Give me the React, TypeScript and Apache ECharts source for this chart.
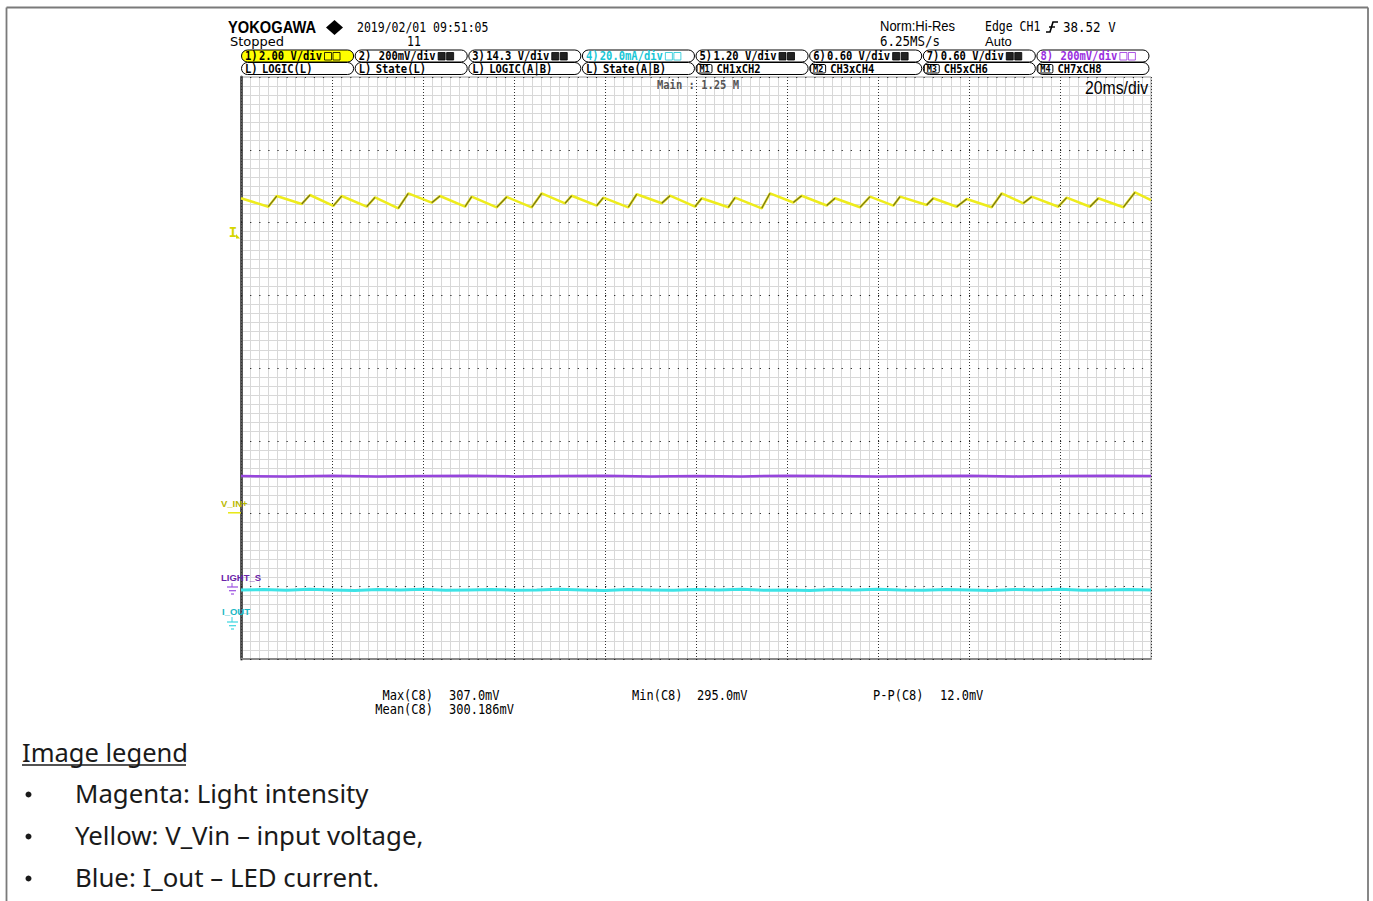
import React, { useEffect, useRef } from "react";
import * as echarts from "echarts";

// ---- Data (x in ms, 20 ms/div; y in screen divisions, centre = 0) ----
const xTicksMs = [0, 20, 40, 60, 80, 100, 120, 140, 160, 180, 200];

const yellowTime = [0, 6.0, 7.85, 13.34, 15.16, 20.29, 22.13, 27.63, 29.45, 34.57, 36.77, 41.91, 43.74, 49.23, 50.7, 56.2, 58.4, 63.89, 66.09, 71.21, 72.68, 78.18, 79.63, 85.12, 86.97, 92.46, 94.29, 99.78, 101.25, 107.1, 108.57, 114.44, 116.26, 121.38, 123.23, 128.72, 130.55, 136.04, 138.24, 143.36, 144.84, 150.7, 152.15, 157.3, 159.5, 164.99, 167.19, 171.93, 173.78, 179.63, 181.47, 186.59, 188.42, 193.91, 196.48, 200];
const yellowLevel = [2.333, 2.217, 2.364, 2.254, 2.378, 2.227, 2.364, 2.217, 2.346, 2.195, 2.401, 2.272, 2.364, 2.217, 2.355, 2.209, 2.351, 2.209, 2.401, 2.264, 2.368, 2.231, 2.341, 2.209, 2.388, 2.264, 2.368, 2.217, 2.333, 2.209, 2.341, 2.195, 2.401, 2.275, 2.368, 2.234, 2.333, 2.209, 2.355, 2.231, 2.355, 2.241, 2.333, 2.217, 2.323, 2.209, 2.401, 2.264, 2.355, 2.217, 2.341, 2.217, 2.333, 2.209, 2.415, 2.309];

const purpleTime = [0, 10, 20, 30, 40, 50, 60, 70, 80, 90, 100, 110, 120, 130, 140, 150, 160, 170, 180, 190, 200];
const purpleLevel = [-1.485, -1.49, -1.48, -1.49, -1.485, -1.48, -1.49, -1.485, -1.48, -1.49, -1.485, -1.49, -1.48, -1.485, -1.49, -1.485, -1.48, -1.49, -1.485, -1.48, -1.485];

const cyanTime = [0, 5, 10, 15, 20, 25, 30, 35, 40, 45, 50, 55, 60, 65, 70, 75, 80, 85, 90, 95, 100, 105, 110, 115, 120, 125, 130, 135, 140, 145, 150, 155, 160, 165, 170, 175, 180, 185, 190, 195, 200];
const cyanLevel = [-3.05, -3.045, -3.055, -3.04, -3.05, -3.06, -3.045, -3.05, -3.04, -3.055, -3.05, -3.045, -3.055, -3.05, -3.04, -3.05, -3.06, -3.045, -3.05, -3.055, -3.045, -3.05, -3.04, -3.055, -3.05, -3.06, -3.045, -3.05, -3.04, -3.05, -3.055, -3.045, -3.05, -3.06, -3.045, -3.05, -3.04, -3.055, -3.05, -3.045, -3.05];

const chanNumbers = ["1", "2", "3", "4", "5", "6", "7", "8"];
const chanScales = ["2.00 V/div", "200mV/div", "14.3 V/div", "20.0mA/div", "1.20 V/div", "0.60 V/div", "0.60 V/div", "200mV/div"];
const chanColors = ["#000", "#000", "#000", "#18c6d6", "#000", "#000", "#000", "#9a2ee0"];
const row2Prefix = ["L", "L", "L", "L", "M1", "M2", "M3", "M4"];
const row2Labels = ["LOGIC(L)", "State(L)", "LOGIC(A|B)", "State(A|B)", "CH1xCH2", "CH3xCH4", "CH5xCH6", "CH7xCH8"];

const measLabels = ["Max(C8)", "Mean(C8)", "Min(C8)", "P-P(C8)"];
const measValues = ["307.0mV", "300.186mV", "295.0mV", "12.0mV"];

const legendTitle = "Image legend";
const legendItems = ["Magenta: Light intensity", "Yellow: V_Vin \u2013 input voltage,", "Blue: I_out \u2013 LED current."];

const MONO = "'DejaVu Sans Mono', 'Liberation Mono', monospace";
const SANS = "'Liberation Sans', Arial, sans-serif";
const DJ = "'DejaVu Sans', sans-serif";
const NOTO = "'Noto Sans', 'Open Sans', sans-serif";

function T(x: number, y: number, text: string, o: any = {}) {
  const align = o.align ?? "left";
  return {
    type: "text",
    x,
    y,
    scaleX: o.sx ?? 1,
    scaleY: o.sy ?? 1,
    z: 100,
    style: {
      text,
      fill: o.color ?? "#000",
      fontSize: o.size ?? 12,
      fontFamily: o.font ?? MONO,
      fontWeight: o.weight ?? "normal",
      textAlign: align,
      align,
      textVerticalAlign: "middle",
      verticalAlign: "middle",
    },
  };
}

function L(x1: number, y1: number, x2: number, y2: number, color: string, w = 1) {
  return { type: "line", z: 100, shape: { x1, y1, x2, y2 }, style: { stroke: color, lineWidth: w } };
}

function buildGraphic() {
  const g: any[] = [];
  // page frame
  g.push(L(6.5, 7.5, 1368, 7.5, "#7a7a7a", 1.8));
  g.push(L(6.5, 7.5, 6.5, 901, "#7a7a7a", 1.8));
  g.push(L(1368, 7.5, 1368, 901, "#7a7a7a", 1.8));

  // header
  g.push(T(228, 27.5, "YOKOGAWA", { font: SANS, size: 16.5, weight: "bold", sx: 0.89 }));
  g.push({ type: "polygon", z: 100, shape: { points: [[334.5, 20], [343, 27.5], [334.5, 35], [326, 27.5]] }, style: { fill: "#000" } });
  g.push(T(357, 27, "2019/02/01 09:51:05", { size: 11.5, sy: 1.25 }));
  g.push(T(230, 41.5, "Stopped", { font: DJ, size: 13 }));
  g.push(T(414, 41.5, "11", { size: 11.5, sy: 1.25, align: "center" }));
  g.push(T(880, 26.5, "Norm:Hi-Res", { font: SANS, size: 13, sy: 1.1 }));
  g.push(T(880, 41.5, "6.25MS/s", { size: 12.5, sy: 1.1 }));
  g.push(T(985, 26.5, "Edge CH1", { size: 11.5, sy: 1.25 }));
  g.push({ type: "polyline", z: 100, shape: { points: [[1046, 32], [1050, 32], [1053, 22], [1058, 22]] }, style: { stroke: "#000", lineWidth: 1.6, fill: null } });
  g.push(L(1049, 27, 1055, 27, "#000", 1.4));
  g.push(T(1063, 26.5, "38.52 V", { size: 12.5, sy: 1.15 }));
  g.push(T(985, 41.5, "Auto", { font: SANS, size: 13, sy: 1.05 }));

  // channel boxes
  const bw = 113.625;
  for (let i = 0; i < 8; i++) {
    const x0 = 241 + i * bw;
    g.push({ type: "rect", z: 99, shape: { x: x0 + 0.5, y: 50, width: bw - 1.5, height: 12, r: 6 }, style: { fill: i === 0 ? "#ffff00" : "#fff", stroke: "#000", lineWidth: 1 } });
    g.push({ type: "rect", z: 99, shape: { x: x0 + 0.5, y: 62.5, width: bw - 1.5, height: 12, r: 6 }, style: { fill: "#fff", stroke: "#000", lineWidth: 1 } });
    g.push(T(x0 + 4, 56.5, chanNumbers[i] + ")", { size: 10.5, sy: 1.15, color: chanColors[i], weight: "bold" }));
    g.push(T(x0 + 81, 56.5, chanScales[i], { size: 10.5, sy: 1.15, color: chanColors[i], align: "right", weight: "bold" }));
    const light = i === 0 || i === 3 || i === 7;
    const ic = chanColors[i] === "#000" ? "#000" : chanColors[i];
    g.push({ type: "rect", z: 100, shape: { x: x0 + 83.5, y: 52.5, width: 7, height: 7.5 }, style: { fill: light ? "none" : "#222", stroke: ic, lineWidth: 0.8 } });
    g.push({ type: "rect", z: 100, shape: { x: x0 + 92, y: 52.5, width: 7, height: 7.5 }, style: { fill: light ? "none" : "#222", stroke: ic, lineWidth: 0.8 } });
    if (row2Prefix[i] === "L") {
      g.push(T(x0 + 4, 69, "L)", { size: 10.5, sy: 1.15, weight: "bold" }));
    } else {
      g.push({ type: "rect", z: 100, shape: { x: x0 + 1.5, y: 64.5, width: 15, height: 8.5, r: 1.5 }, style: { fill: "#fff", stroke: "#000", lineWidth: 1 } });
      g.push(T(x0 + 9, 69, row2Prefix[i], { size: 8.5, weight: "bold", align: "center", sy: 1.05 }));
    }
    g.push(T(x0 + 21, 69, row2Labels[i], { size: 10.5, sy: 1.15, weight: "bold" }));
  }

  // in-screen labels
  g.push(T(698, 85, "Main : 1.25 M", { size: 10.5, weight: "bold", color: "#555", align: "center", sy: 1.1 }));
  g.push(T(1148, 88, "20ms/div", { font: SANS, size: 17.5, sx: 0.9, align: "right" }));

  // channel markers left
  g.push(T(233, 232, "I", { size: 14, weight: "bold", color: "#d6d600", align: "center" }));
  g.push({ type: "polygon", z: 100, shape: { points: [[236, 234], [240, 238.5], [236, 238.5]] }, style: { fill: "#d6d600" } });
  g.push(T(221, 503.5, "V_IN+", { font: SANS, size: 9.5, weight: "bold", color: "#b9b900" }));
  g.push(L(228, 512.8, 241, 512.8, "#e6e600", 1.4));
  g.push(T(221, 577, "LIGHT_S", { font: SANS, size: 9.5, weight: "bold", color: "#6a24a8" }));
  g.push(L(232, 583, 232, 587, "#9a4ee0", 1));
  g.push(L(227, 587, 238, 587, "#9a4ee0", 1.2));
  g.push(L(229, 590.7, 236, 590.7, "#9a4ee0", 1.2));
  g.push(L(231, 594, 234, 594, "#9a4ee0", 1.2));
  g.push(T(222, 611.5, "I_OUT", { font: SANS, size: 9.5, weight: "bold", color: "#1ab8c4" }));
  g.push(L(232, 617, 232, 622, "#3cd6e0", 1));
  g.push(L(227, 622, 238, 622, "#3cd6e0", 1.2));
  g.push(L(229, 625.7, 236, 625.7, "#3cd6e0", 1.2));
  g.push(L(231, 629, 234, 629, "#3cd6e0", 1.2));

  // measurements
  g.push(T(433, 695, measLabels[0], { size: 12, sy: 1.15, align: "right" }));
  g.push(T(449, 695, measValues[0], { size: 12, sy: 1.15 }));
  g.push(T(433, 709, measLabels[1], { size: 12, sy: 1.15, align: "right" }));
  g.push(T(449, 709, measValues[1], { size: 12, sy: 1.15 }));
  g.push(T(632, 695, measLabels[2], { size: 12, sy: 1.15 }));
  g.push(T(697, 695, measValues[2], { size: 12, sy: 1.15 }));
  g.push(T(873, 695, measLabels[3], { size: 12, sy: 1.15 }));
  g.push(T(940, 695, measValues[3], { size: 12, sy: 1.15 }));

  // image legend
  g.push(T(22, 752, legendTitle, { font: NOTO, size: 25.5, color: "#1a1a1a" }));
  g.push(L(22, 765, 186, 765, "#1a1a1a", 1.5));
  const ly = [793, 835, 877];
  legendItems.forEach((s, i) => {
    g.push({ type: "circle", z: 100, shape: { cx: 28.5, cy: ly[i] + 1.5, r: 3 }, style: { fill: "#1a1a1a" } });
    g.push(T(75, ly[i], s, { font: NOTO, size: 25.8, color: "#1a1a1a" }));
  });
  return g;
}

export default function App() {
  const ref = useRef<HTMLDivElement>(null);
  useEffect(() => {
    const chart = echarts.init(ref.current!, null, { renderer: "svg" });
    const yellowData = yellowTime.map((t, i) => [t, yellowLevel[i]]);
    const edgeData: any[] = [];
    for (let i = 1; i + 1 < yellowTime.length; i += 2) {
      edgeData.push([yellowTime[i], yellowLevel[i]]);
      edgeData.push([yellowTime[i + 1], yellowLevel[i + 1]]);
      edgeData.push([yellowTime[i + 1], "-"]);
    }
    const hidden = { axisLabel: { show: false }, axisTick: { show: false } };
    const option: any = {
      animation: false,
      backgroundColor: "#fff",
      grid: { left: 241, top: 77, width: 910, height: 582, show: true, borderColor: "#9a9a9a", borderWidth: 1, backgroundColor: "#fff" },
      xAxis: [
        {
          type: "value", min: xTicksMs[0], max: xTicksMs[xTicksMs.length - 1], interval: 20, ...hidden,
          axisLine: { show: true, onZero: false, lineStyle: { color: "#8a8a8a", width: 2 } },
          splitLine: { show: false },
          minorTick: { show: false, splitNumber: 10 },
          minorSplitLine: { show: true, lineStyle: { color: "#d8d8d8", width: 1 } },
          z: 0,
        },
        {
          type: "value", min: xTicksMs[0], max: xTicksMs[xTicksMs.length - 1], interval: 20, position: "top", ...hidden,
          axisLine: { show: false, onZero: false },
          splitLine: { show: true, lineStyle: { color: "#333", width: 1, type: [1, 2] } },
          z: 1,
        },
      ],
      yAxis: [
        {
          type: "value", min: -4, max: 4, interval: 1, ...hidden,
          axisLine: { show: true, onZero: false, lineStyle: { color: "#5a5a5a", width: 3 } },
          splitLine: { show: false },
          minorTick: { show: false, splitNumber: 8 },
          minorSplitLine: { show: true, lineStyle: { color: "#d8d8d8", width: 1 } },
          z: 0,
        },
        {
          type: "value", min: -4, max: 4, interval: 1, position: "right", ...hidden,
          axisLine: { show: false, onZero: false },
          splitLine: { show: true, lineStyle: { color: "#222", width: 1.2, type: [1.2, 7.9] } },
          z: 1,
        },
      ],
      series: [
        { type: "line", name: "CH8 LIGHT_S", xAxisIndex: 0, yAxisIndex: 0, data: purpleTime.map((t, i) => [t, purpleLevel[i]]), showSymbol: false, lineStyle: { color: "#9645dc", width: 2.5 }, z: 4 },
        { type: "line", name: "CH4 I_OUT", xAxisIndex: 0, yAxisIndex: 0, data: cyanTime.map((t, i) => [t, cyanLevel[i]]), showSymbol: false, lineStyle: { color: "#3ee3e6", width: 3 }, z: 4 },
        { type: "line", name: "CH1 V_IN+", xAxisIndex: 0, yAxisIndex: 0, data: yellowData, showSymbol: false, lineStyle: { color: "#eeec1c", width: 2.5 }, z: 5 },
        { type: "line", name: "CH1 edge", xAxisIndex: 0, yAxisIndex: 0, data: edgeData, connectNulls: false, showSymbol: false, lineStyle: { color: "#74701e", width: 1.2 }, z: 6 },
      ],
      graphic: buildGraphic(),
    };
    chart.setOption(option);
    return () => chart.dispose();
  }, []);
  return <div ref={ref} style={{ position: "fixed", left: 0, top: 0, width: 1373, height: 901, background: "#fff" }} />;
}
